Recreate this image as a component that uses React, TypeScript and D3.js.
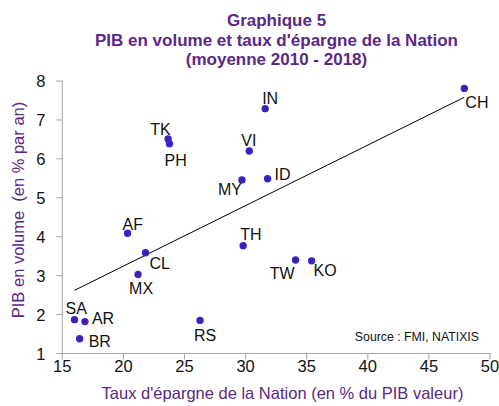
import React from "react";
import { scaleLinear, mean, sum, min, max } from "d3";

// Data
const countries = ["CH", "IN", "VI", "ID", "MY", "TK", "PH", "AF", "CL", "MX", "SA", "AR", "BR", "RS", "TH", "TW", "KO"];
const savingsRate = [47.9, 31.6, 30.3, 31.8, 29.7, 23.66, 23.77, 20.34, 21.81, 21.2, 16.0, 16.85, 16.42, 26.27, 29.8, 34.09, 35.4];
const gdpGrowth = [7.81, 7.29, 6.2, 5.49, 5.46, 6.51, 6.39, 4.09, 3.59, 3.03, 1.87, 1.82, 1.38, 1.85, 3.77, 3.4, 3.38];

const xTicks = [15, 20, 25, 30, 35, 40, 45, 50];
const yTicks = [1, 2, 3, 4, 5, 6, 7, 8];

// label placement around each dot (pixels)
const labelOffsets: Record<string, [number, number, string]> = {
  CH: [1, 20, "start"],
  IN: [-3, -5, "start"],
  VI: [-8, -5, "start"],
  ID: [7, 1, "start"],
  MY: [0, 15, "end"],
  TK: [-18, -4, "start"],
  PH: [-5, 22, "start"],
  AF: [-5, -3, "start"],
  CL: [4, 16, "start"],
  MX: [-9, 20, "start"],
  SA: [-9, -6, "start"],
  AR: [7, 2, "start"],
  BR: [9, 8, "start"],
  RS: [-6, 21, "start"],
  TH: [-3, -6, "start"],
  TW: [-1, 19, "end"],
  KO: [2, 15, "start"],
};

const PURPLE = "#5b2886";
const FONT = "'Liberation Sans', Arial, sans-serif";

export default function App() {
  const width = 499;
  const height = 406;

  const x = scaleLinear().domain([15, 50]).range([62.3, 490]);
  const y = scaleLinear().domain([1, 8]).range([353.5, 81]);

  // least-squares trend line
  const mx = mean(savingsRate)!;
  const my = mean(gdpGrowth)!;
  const sxy = sum(savingsRate, (v, i) => (v - mx) * (gdpGrowth[i] - my));
  const sxx = sum(savingsRate, (v) => (v - mx) * (v - mx));
  const slope = sxy / sxx;
  const intercept = my - slope * mx;
  const x0 = min(savingsRate)!;
  const x1 = max(savingsRate)!;

  const axisColor = "#a6a6a6";

  return (
    <svg
      width={width}
      height={height}
      style={{ position: "absolute", left: 0, top: 0, background: "white" }}
      fontFamily={FONT}
    >
      {/* Title */}
      <g fill={PURPLE} fontWeight="bold" fontSize={17} textAnchor="middle">
        <text x={276.5} y={26}>Graphique 5</text>
        <text x={276.5} y={45.5}>PIB en volume et taux d'épargne de la Nation</text>
        <text x={276.5} y={65}>(moyenne 2010 - 2018)</text>
      </g>

      {/* Y axis */}
      <line x1={x(15)} x2={x(15)} y1={y(1)} y2={y(8)} stroke={axisColor} />
      {yTicks.map((t) => (
        <g key={`y${t}`}>
          <line x1={x(15) - 6} x2={x(15)} y1={y(t)} y2={y(t)} stroke={axisColor} />
          <text x={45.5} y={y(t) + 6} textAnchor="end" fontSize={16.5} fill="#111">
            {t}
          </text>
        </g>
      ))}

      {/* X axis */}
      <line x1={x(15)} x2={x(50)} y1={y(1)} y2={y(1)} stroke={axisColor} />
      {xTicks.map((t) => (
        <g key={`x${t}`}>
          <line x1={x(t)} x2={x(t)} y1={y(1)} y2={y(1) + 6} stroke={axisColor} />
          <text x={x(t)} y={372} textAnchor="middle" fontSize={16.5} fill="#111">
            {t}
          </text>
        </g>
      ))}

      {/* Axis titles */}
      <text x={282.5} y={399} textAnchor="middle" fontSize={16.5} fill={PURPLE}>
        Taux d'épargne de la Nation (en % du PIB valeur)
      </text>
      <text
        transform="translate(24, 210) rotate(-90)"
        textAnchor="middle"
        fontSize={16.5}
        fill={PURPLE}
        style={{ whiteSpace: "pre" }}
      >
        {"PIB en volume  (en % par an)"}
      </text>

      {/* Trend line */}
      <line
        x1={x(x0)}
        y1={y(intercept + slope * x0)}
        x2={x(x1)}
        y2={y(intercept + slope * x1)}
        stroke="#000"
        strokeWidth={1}
      />

      {/* Points */}
      {countries.map((c, i) => {
        const [dx, dy, anchor] = labelOffsets[c];
        const px = x(savingsRate[i]);
        const py = y(gdpGrowth[i]);
        return (
          <g key={c}>
            <circle cx={px} cy={py} r={3} fill="#4e1f93" stroke="#2a2ae8" strokeWidth={1.4} />
            <text x={px + dx} y={py + dy} textAnchor={anchor} fontSize={16} fill="#111">
              {c}
            </text>
          </g>
        );
      })}

      {/* Source */}
      <text x={479} y={340.5} textAnchor="end" fontSize={12.3} fill="#111">
        Source : FMI, NATIXIS
      </text>
    </svg>
  );
}
